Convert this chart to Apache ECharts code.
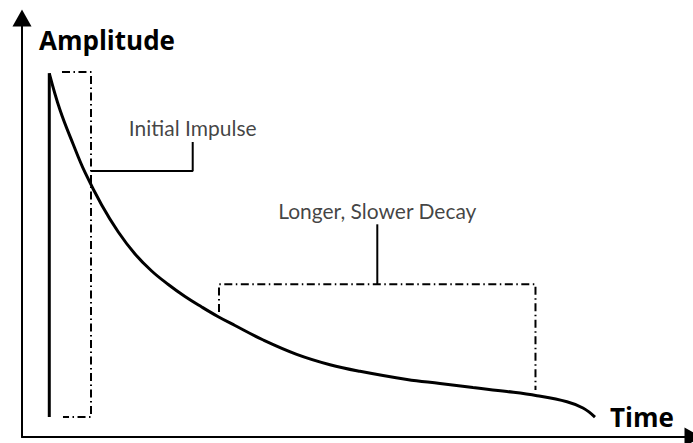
<!DOCTYPE html>
<html>
<head>
<meta charset="utf-8">
<script src="https://cdn.jsdelivr.net/npm/echarts@6/dist/echarts.min.js"></script>
<style>html,body{margin:0;padding:0;background:#fff}#c{width:693px;height:443px}</style>
</head>
<body>
<div id="c"></div>
<script>
// Decay curve (time, amplitude)
const curveTime = [4.88, 6.80, 9.17, 11.27, 14.25, 17.22, 20.21, 23.19, 26.16, 29.15, 32.14, 35.10, 38.09, 43.15, 49.12, 55.08, 60.44, 68.85, 74.75, 80.65, 86.73, 92.10, 97.46, 100.32, 102.47];
const curveAmp  = [86.80, 78.04, 69.81, 63.13, 55.37, 48.93, 43.68, 39.62, 36.40, 33.53, 31.03, 28.71, 26.61, 23.15, 19.74, 17.26, 15.68, 13.72, 12.77, 11.81, 10.86, 9.86, 8.42, 6.92, 4.77];
// Initial vertical impulse
const impulseTime = [4.88, 4.88];
const impulseAmp  = [4.77, 86.80];
// Dashed bracket around the initial impulse
const bracket1Time = [7.15, 12.34, 12.34, 7.33];
const bracket1Amp  = [87.11, 87.11, 4.77, 4.77];
// Dashed bracket around the slow decay
const bracket2Time = [35.23, 35.23, 91.83, 91.83];
const bracket2Amp  = [29.83, 36.44, 36.44, 11.22];
// Leader lines
const leader1Time = [12.34, 30.53, 30.53];
const leader1Amp  = [63.48, 63.48, 70.41];
const leader2Time = [63.54, 63.54];
const leader2Amp  = [36.44, 50.76];
// Annotation labels
const annotationLabels = ['Initial Impulse', 'Longer, Slower Decay'];
const axisTitles = ['Amplitude', 'Time'];

const zip = (xs, ys) => xs.map((x, i) => [x, ys[i]]);
const dashDot = [8, 3.5, 1.5, 3.5];

const chart = echarts.init(document.getElementById('c'), null, {renderer: 'svg'});
chart.setOption({
  animation: false,
  backgroundColor: '#fff',
  title: [
    {text: axisTitles[0], left: 39, top: 27, padding: 0,
     textStyle: {fontFamily: 'Open Sans', fontWeight: 'bold', fontSize: 26, color: '#000'}},
    {text: axisTitles[1], left: 610, top: 404, padding: 0,
     textStyle: {fontFamily: 'Open Sans', fontWeight: 'bold', fontSize: 26, color: '#000'}}
  ],
  grid: {left: 22, right: 0, top: 18, bottom: 6},
  xAxis: {
    type: 'value', min: 0, max: 120,
    axisLine: {show: true, symbol: ['none', 'triangle'], symbolSize: [19, 17], lineStyle: {color: '#000', width: 2}},
    axisTick: {show: false}, axisLabel: {show: false}, splitLine: {show: false}
  },
  yAxis: {
    type: 'value', min: 0, max: 100,
    axisLine: {show: true, symbol: ['none', 'triangle'], symbolSize: [19, 17], lineStyle: {color: '#000', width: 2}},
    axisTick: {show: false}, axisLabel: {show: false}, splitLine: {show: false}
  },
  series: [
    {type: 'line', data: zip(curveTime, curveAmp), smooth: 0.4, symbol: 'none',
     lineStyle: {color: '#000', width: 3}},
    {type: 'line', data: zip(impulseTime, impulseAmp), symbol: 'none',
     lineStyle: {color: '#000', width: 3}},
    {type: 'line', data: zip(bracket1Time, bracket1Amp), symbol: 'none',
     lineStyle: {color: '#000', width: 2, type: dashDot}},
    {type: 'line', data: zip(bracket2Time, bracket2Amp), symbol: 'none',
     lineStyle: {color: '#000', width: 2, type: dashDot}},
    {type: 'line', data: zip(leader1Time, leader1Amp), symbol: 'none',
     lineStyle: {color: '#000', width: 2}},
    {type: 'line', data: zip(leader2Time, leader2Amp), symbol: 'none',
     lineStyle: {color: '#000', width: 2}},
    {type: 'scatter', symbolSize: 1, itemStyle: {color: 'rgba(0,0,0,0)'},
     data: [
       {value: [leader1Time[2], leader1Amp[2]], name: annotationLabels[0]},
       {value: [leader2Time[1], leader2Amp[1]], name: annotationLabels[1]}
     ],
     label: {show: true, position: 'top', distance: 3, formatter: '{b}',
       fontFamily: 'Lato', fontSize: 21, color: '#111'}}
  ]
});
</script>
</body>
</html>
